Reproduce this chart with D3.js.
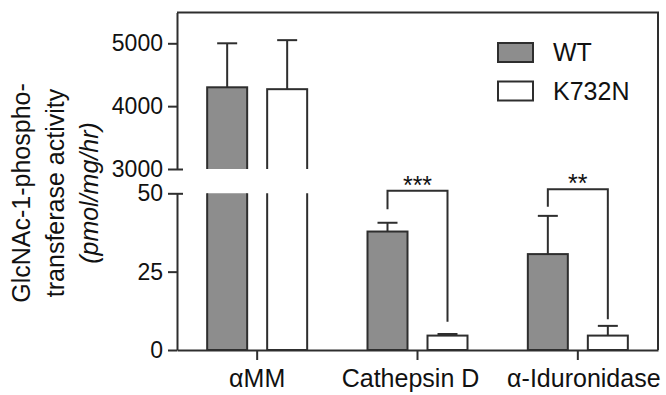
<!DOCTYPE html>
<html>
<head>
<meta charset="utf-8">
<script src="https://cdn.jsdelivr.net/npm/d3@7"></script>
<style>
    body { margin: 0; background: #fff; }
    text { font-family: 'Liberation Sans', Arial, sans-serif; fill: #111; }
</style>
</head>
<body>
<svg id="chart" width="666" height="395"></svg>
<script>
// values
const categories = ['αMM', 'Cathepsin D', 'α-Iduronidase'];
const seriesNames = ['WT', 'K732N'];
const wtMeans = [4300, 37.8, 30.6];
const wtErrors = [700, 2.8, 12.2];
const mutMeans = [4270, 4.6, 4.6];
const mutErrors = [780, 0.5, 3.1];
const upperTicks = [3000, 4000, 5000];
const lowerTicks = [0, 25, 50];
// significance brackets: category, label, bracket height, leg ends (lower scale units)
const sigCategories = ['Cathepsin D', 'α-Iduronidase'];
const sigLabels = ['***', '**'];
const sigHeights = [50.8, 51.3];
const sigWtLegEnds = [44.9, 45.7];
const sigMutLegEnds = [9.0, 9.8];

const plotLeft = 177, plotRight = 658, plotTop = 12.5, plotBottom = 350;
const breakHigh = 169, breakLow = 193.3;
const ink = '#2e2e2e';
const grey = '#8d8d8d';
const colors = { 'WT': grey, 'K732N': '#fff' };

const svg = d3.select('#chart');

const x = d3.scaleBand().domain(categories).range([plotLeft, plotRight]).padding(0);
const xInner = d3.scaleBand().domain(seriesNames).range([-50, 50]).paddingInner(1 / 3).paddingOuter(0);
const yUpper = d3.scaleLinear().domain([3000, 5490]).range([breakHigh, plotTop]);
const yLower = d3.scaleLinear().domain([0, 50]).range([plotBottom, breakLow]);

const defs = svg.append('defs');
defs.append('clipPath').attr('id', 'clipUpper')
    .append('rect').attr('x', 0).attr('y', 0).attr('width', 666).attr('height', breakHigh);
defs.append('clipPath').attr('id', 'clipLower')
    .append('rect').attr('x', 0).attr('y', breakLow).attr('width', 666).attr('height', 395 - breakLow);

const rows = [];
categories.forEach((c, i) => {
    rows.push({ cat: c, s: 'WT', v: wtMeans[i], e: wtErrors[i] });
    rows.push({ cat: c, s: 'K732N', v: mutMeans[i], e: mutErrors[i] });
});
const cx = d => x(d.cat) + x.bandwidth() / 2 + xInner(d.s);
const bw = xInner.bandwidth();

// frame (top and right)
svg.append('path')
    .attr('d', `M${plotLeft},${plotTop}H${plotRight}V${plotBottom}`)
    .attr('fill', 'none').attr('stroke', ink).attr('stroke-width', 2);

const bars = svg.append('g');
const big = rows.filter(d => d.v > 50);
const small = rows.filter(d => d.v <= 50);

// broken bars: lower part fills the whole lower segment
bars.append('g').attr('clip-path', 'url(#clipLower)')
    .selectAll('rect').data(big).enter().append('rect')
    .attr('x', cx).attr('width', bw)
    .attr('y', yLower(50) - 4).attr('height', yLower(0) - yLower(50) + 4)
    .attr('fill', d => colors[d.s]).attr('stroke', ink).attr('stroke-width', 2);

bars.append('g').attr('clip-path', 'url(#clipUpper)')
    .selectAll('rect').data(big).enter().append('rect')
    .attr('x', cx).attr('width', bw)
    .attr('y', d => yUpper(d.v)).attr('height', d => yUpper(3000) + 4 - yUpper(d.v))
    .attr('fill', d => colors[d.s]).attr('stroke', ink).attr('stroke-width', 2);

bars.append('g')
    .selectAll('rect').data(small).enter().append('rect')
    .attr('x', cx).attr('width', bw)
    .attr('y', d => yLower(d.v)).attr('height', d => yLower(0) - yLower(d.v))
    .attr('fill', d => colors[d.s]).attr('stroke', ink).attr('stroke-width', 2);

// error bars (upper half only)
const yOf = d => (d.v > 50 ? yUpper : yLower);
const err = svg.append('g').attr('stroke', ink).attr('stroke-width', 2);
rows.forEach(d => {
    const mx = cx(d) + bw / 2;
    const y0 = yOf(d)(d.v), y1 = yOf(d)(d.v + d.e);
    err.append('line').attr('x1', mx).attr('x2', mx).attr('y1', y0).attr('y2', y1);
    err.append('line').attr('x1', mx - 10).attr('x2', mx + 10).attr('y1', y1).attr('y2', y1);
});

// y axes, two segments
const styleAxis = g => {
    g.selectAll('path.domain').attr('stroke', ink).attr('stroke-width', 2);
    g.selectAll('.tick line').attr('stroke', ink).attr('stroke-width', 2);
    g.selectAll('.tick text').style('font-size', '23px').attr('fill', '#111');
};
svg.append('g').attr('transform', `translate(${plotLeft},0)`)
    .call(d3.axisLeft(yUpper).tickValues(upperTicks).tickFormat(d3.format('d'))
        .tickSizeInner(9).tickSizeOuter(0).tickPadding(5))
    .call(styleAxis)
    .call(g => g.selectAll('.tick').filter(d => d === 3000).select('line').attr('x1', 6));
svg.append('g').attr('transform', `translate(${plotLeft},0)`)
    .call(d3.axisLeft(yLower).tickValues(lowerTicks).tickFormat(d3.format('d'))
        .tickSizeInner(9).tickSizeOuter(0).tickPadding(5))
    .call(styleAxis)
    .call(g => g.selectAll('.tick').filter(d => d === 50).select('line').attr('x1', 6));

// x axis
const labelShift = [0, -7, 6];
svg.append('g').attr('transform', `translate(0,${plotBottom})`)
    .call(d3.axisBottom(x).tickSizeInner(10).tickSizeOuter(0).tickPadding(9.5))
    .call(g => {
        g.select('path.domain').attr('stroke', ink).attr('stroke-width', 2);
        g.selectAll('.tick line').attr('stroke', ink).attr('stroke-width', 2);
        g.selectAll('.tick text').style('font-size', '25px').attr('fill', '#111')
            .attr('dx', (d, i) => labelShift[i]);
    });

// significance brackets
sigCategories.forEach((c, i) => {
    const xa = x(c) + x.bandwidth() / 2 + xInner('WT') + bw / 2;
    const xb = x(c) + x.bandwidth() / 2 + xInner('K732N') + bw / 2;
    const yh = yLower(sigHeights[i]);
    svg.append('path')
        .attr('d', `M${xa},${yLower(sigWtLegEnds[i])}V${yh}H${xb}V${yLower(sigMutLegEnds[i])}`)
        .attr('fill', 'none').attr('stroke', ink).attr('stroke-width', 2);
    svg.append('text')
        .attr('x', (xa + xb) / 2).attr('y', yh + 3)
        .attr('text-anchor', 'middle')
        .style('font-size', '25px')
        .text(sigLabels[i]);
});

// y title
const title = svg.append('text')
    .attr('transform', 'translate(0,193) rotate(-90)')
    .attr('text-anchor', 'middle')
    .style('font-size', '25px');
title.append('tspan').attr('x', 0).attr('y', 29.5).text('GlcNAc-1-phospho-');
title.append('tspan').attr('x', 0).attr('y', 64).text('transferase activity');
title.append('tspan').attr('x', 0).attr('y', 97.5).style('font-style', 'italic').text('(pmol/mg/hr)');

// legend
const legend = svg.append('g').attr('transform', 'translate(498,43)');
seriesNames.forEach((s, i) => {
    const row = legend.append('g').attr('transform', `translate(0,${i * 38.5})`);
    row.append('rect').attr('width', 35).attr('height', 19)
        .attr('fill', colors[s]).attr('stroke', ink).attr('stroke-width', 2);
    row.append('text').attr('x', 55).attr('y', 18).style('font-size', '25px').text(s);
});
</script>
</body>
</html>
